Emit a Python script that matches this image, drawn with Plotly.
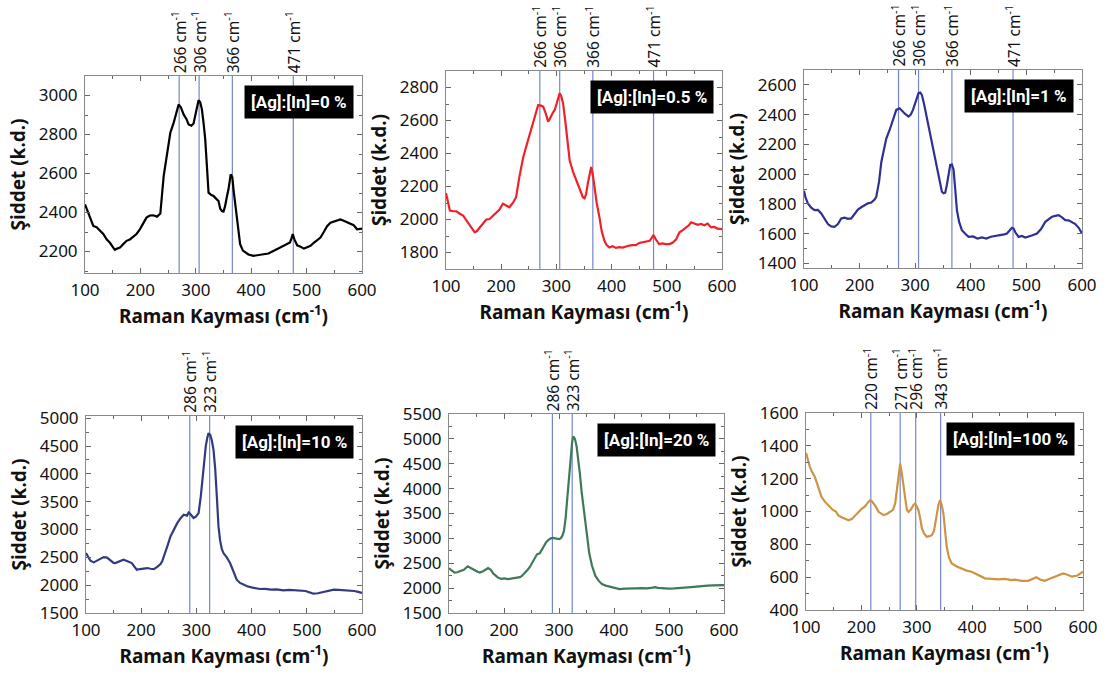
import plotly.graph_objects as go

# ---------------- data ----------------
x1 = [100,106,115,121,127,133,139,145,151,154,158,163,169,175,181,187,193,199,205,211,217,223,230,236,242,248,254,260,266,269,273,278,283,287,292,296,300,302,305,308,311,314,317,320,323,328,332,337,341,344,347,350,353,356,359,363,366,368,371,374,377,380,385,389,395,404,412,422,431,440,449,458,464,470,473,475,478,483,489,495,501,507,513,519,525,531,537,543,549,555,561,567,573,579,585,591,596,600]
y1 = [2442,2400,2331,2325,2306,2290,2263,2245,2220,2209,2215,2220,2238,2255,2262,2277,2290,2314,2345,2374,2385,2386,2379,2395,2587,2707,2809,2860,2930,2954,2940,2903,2880,2852,2845,2857,2910,2946,2976,2965,2929,2860,2775,2640,2502,2490,2485,2470,2459,2420,2408,2405,2434,2480,2519,2596,2580,2519,2450,2383,2300,2238,2205,2195,2185,2178,2182,2186,2190,2203,2215,2229,2238,2246,2270,2289,2262,2232,2225,2215,2222,2229,2245,2258,2272,2300,2330,2348,2355,2360,2365,2358,2350,2340,2335,2314,2318,2318]

x2 = [100,104,107,113,119,125,131,137,143,148,152,156,161,167,173,179,185,191,197,203,209,215,221,227,233,240,246,252,258,264,267,272,276,281,285,288,291,294,297,300,303,306,309,312,316,320,324,330,336,342,348,351,354,357,360,363,366,369,373,378,382,387,391,396,402,408,414,420,426,432,438,444,450,456,462,469,473,476,480,486,492,498,505,511,517,523,529,535,540,544,550,556,562,568,574,580,586,592,600]
y2 = [2160,2095,2054,2050,2050,2035,2024,1995,1963,1935,1922,1930,1950,1975,2000,2003,2020,2040,2060,2095,2085,2074,2100,2135,2260,2379,2450,2522,2590,2664,2694,2690,2684,2640,2593,2610,2633,2650,2664,2700,2740,2766,2745,2705,2600,2480,2359,2290,2237,2180,2135,2128,2156,2220,2280,2318,2270,2196,2100,2013,1930,1871,1845,1830,1838,1828,1832,1830,1838,1842,1845,1845,1858,1862,1865,1871,1890,1906,1880,1851,1855,1851,1851,1860,1880,1922,1935,1950,1965,1983,1975,1968,1973,1965,1975,1952,1955,1945,1942]

x3 = [100,103,107,113,119,125,131,137,143,149,155,161,167,173,179,185,191,197,203,209,215,221,227,230,235,239,243,248,254,260,266,272,276,282,288,292,296,301,306,309,312,316,321,327,333,339,344,348,351,354,357,360,363,366,369,372,375,379,384,390,396,404,412,420,428,436,444,452,460,465,468,471,474,477,480,486,492,498,504,511,519,526,534,540,546,552,558,564,570,576,582,588,594,600]
y3 = [1889,1840,1804,1775,1759,1760,1736,1700,1665,1650,1647,1665,1703,1708,1700,1703,1730,1763,1778,1790,1804,1810,1830,1849,1950,2080,2163,2240,2297,2370,2432,2443,2425,2405,2387,2400,2432,2490,2544,2548,2533,2470,2380,2252,2150,2050,1960,1882,1872,1876,1930,2010,2062,2065,2030,1900,1759,1680,1624,1600,1579,1582,1568,1575,1568,1580,1584,1590,1596,1602,1615,1629,1640,1635,1610,1579,1585,1575,1580,1590,1602,1630,1680,1695,1714,1720,1725,1710,1692,1690,1680,1665,1640,1602]

x4 = [100,104,108,114,120,126,132,138,144,150,153,158,163,168,173,178,183,188,192,198,204,211,217,223,229,235,238,243,248,253,259,265,271,277,283,286,289,292,295,299,304,308,313,317,320,322,325,328,331,334,337,340,343,346,349,355,361,367,373,379,385,392,400,408,415,425,435,445,458,468,478,488,498,505,512,520,530,540,549,558,566,572,579,586,593,600]
y4 = [2577,2520,2440,2410,2440,2470,2505,2495,2440,2400,2398,2415,2440,2458,2440,2420,2398,2330,2278,2290,2300,2308,2295,2290,2330,2380,2428,2560,2720,2876,3000,3110,3200,3265,3250,3307,3280,3240,3206,3230,3295,3600,4133,4500,4660,4732,4700,4600,4432,4100,3600,3056,2800,2650,2577,2500,2398,2250,2098,2040,2009,1980,1960,1945,1931,1935,1920,1925,1907,1915,1910,1907,1895,1870,1847,1855,1875,1900,1919,1915,1910,1905,1907,1895,1880,1859]

x5 = [100,105,110,115,120,127,134,140,147,152,156,162,167,171,176,180,185,189,195,201,207,213,217,223,229,232,238,243,247,252,256,260,265,270,274,277,281,285,289,293,297,300,303,306,309,312,315,318,321,324,326,329,332,335,338,341,345,350,355,360,366,372,378,385,392,400,410,420,430,440,450,460,470,475,480,490,500,510,520,530,540,550,560,570,580,590,600]
y5 = [2400,2350,2310,2320,2340,2370,2440,2410,2360,2330,2313,2340,2380,2405,2370,2300,2250,2212,2185,2195,2180,2190,2185,2200,2220,2240,2300,2370,2425,2520,2600,2680,2700,2800,2880,2930,2970,3000,3010,3000,2990,2985,3000,3050,3150,3400,3800,4200,4650,4950,5050,5000,4850,4600,4300,3950,3600,3100,2700,2450,2250,2150,2080,2050,2030,2000,1980,1990,1985,1995,2000,1995,2010,2020,2005,1990,1990,1995,2000,2010,2020,2030,2045,2050,2055,2060,2060]

x6 = [100,103,107,111,116,122,128,134,140,145,149,154,158,164,170,177,183,189,195,201,206,210,213,216,219,222,226,231,236,240,246,252,257,261,264,267,270,273,276,279,282,285,289,294,297,300,303,306,309,313,318,323,327,331,336,339,342,345,348,351,354,358,363,372,381,390,399,411,423,435,447,459,471,477,489,501,508,516,523,531,540,549,557,564,572,580,590,600]
y6 = [1357,1320,1272,1240,1211,1150,1089,1060,1039,1025,1008,1000,978,965,957,947,955,978,995,1018,1030,1049,1060,1069,1062,1049,1030,998,985,978,985,998,1010,1049,1130,1231,1292,1231,1150,1069,1010,998,1010,1040,1049,1030,1008,960,900,866,846,850,856,880,978,1040,1069,1040,988,900,785,720,684,665,653,640,633,615,593,590,587,590,582,585,578,578,590,599,585,578,590,603,612,623,615,603,610,633]

peak_labels_top = ["266 cm<sup>-1</sup>", "306 cm<sup>-1</sup>", "366 cm<sup>-1</sup>", "471 cm<sup>-1</sup>"]
peak_pos_top = [270, 306, 366, 476]
peak_labels_mid = ["286 cm<sup>-1</sup>", "323 cm<sup>-1</sup>"]
peak_pos_mid = [288, 324]
peak_labels_100 = ["220 cm<sup>-1</sup>", "271 cm<sup>-1</sup>", "296 cm<sup>-1</sup>", "343 cm<sup>-1</sup>"]
peak_pos_100 = [217, 270, 298, 343]

box_labels = ["[Ag]:[In]=0 %", "[Ag]:[In]=0.5 %", "[Ag]:[In]=1 %",
              "[Ag]:[In]=10 %", "[Ag]:[In]=20 %", "[Ag]:[In]=100 %"]
colors = ["#000000", "#ee2228", "#2e3192", "#333a80", "#3f7a58", "#cc9444"]
y_ranges = [[2090, 3100], [1700, 2900], [1370, 2700], [1500, 5040], [1500, 5500], [400, 1600]]
y_dticks = [200, 200, 200, 500, 500, 200]
xs = [x1, x2, x3, x4, x5, x6]
ys = [y1, y2, y3, y4, y5, y6]
peaks = [(peak_pos_top, peak_labels_top)] * 3 + [(peak_pos_mid, peak_labels_mid)] * 2 + [(peak_pos_100, peak_labels_100)]

# plot-area boxes in pixels (left, right, top, bottom)
W, H = 1109, 680
boxes = [(85, 362, 76, 273), (446, 722, 71, 269), (804, 1082, 70, 268),
         (86, 362, 416, 613), (449, 724, 414, 613), (806, 1083, 413, 610)]

FONT = "Noto Sans, Open Sans, sans-serif"
fig = go.Figure()
annotations = []
shapes = []
for i in range(6):
    n = i + 1
    xa = "x" if n == 1 else f"x{n}"
    ya = "y" if n == 1 else f"y{n}"
    l, r, t, b = boxes[i]
    fig.add_trace(go.Scatter(x=xs[i], y=ys[i], mode="lines", xaxis=xa, yaxis=ya,
                             line=dict(color=colors[i], width=2.2), showlegend=False))
    axcommon = dict(showline=True, linecolor="#8a8a8a", linewidth=1, mirror="ticks",
                    ticks="inside", ticklen=5, tickcolor="#666", showgrid=False, zeroline=False,
                    automargin=False,
                    tickfont=dict(family=FONT, size=17, color="#111"))
    fig.layout[f"xaxis{n}"] = dict(domain=[l / W, r / W], anchor=ya, range=[100, 600], dtick=100,
                                   title=dict(text="Raman Kayması (cm<sup>-1</sup>)", standoff=6,
                                              font=dict(family=FONT, size=19, color="#111", weight="bold")),
                                   minor=dict(ticks="inside", ticklen=3, dtick=50, tickcolor="#666"),
                                   ticklabelstandoff=2, **axcommon)
    fig.layout[f"yaxis{n}"] = dict(domain=[1 - b / H, 1 - t / H], anchor=xa, range=y_ranges[i],
                                   dtick=y_dticks[i],
                                   title=dict(text="Şiddet (k.d.)", standoff=8,
                                              font=dict(family=FONT, size=19, color="#111", weight="bold")),
                                   minor=dict(ticks="inside", ticklen=3, dtick=y_dticks[i] / 2, tickcolor="#666"),
                                   ticklabelstandoff=3, **axcommon)
    pos, labs = peaks[i]
    for p, lab in zip(pos, labs):
        shapes.append(dict(type="line", xref=xa, yref=f"{ya} domain", x0=p, x1=p, y0=0, y1=1,
                           line=dict(color="rgba(70,95,190,0.75)", width=1.2), layer="below"))
        annotations.append(dict(text=lab, xref=xa, yref="paper", x=p, y=1 - t / H,
                                xanchor="center", yanchor="bottom", yshift=2, textangle=-90,
                                borderpad=0,
                                showarrow=False, font=dict(family=FONT, size=15.5, color="#111")))
    annotations.append(dict(text="<b>" + box_labels[i] + "</b>", xref=f"{xa} domain", yref=f"{ya} domain",
                            x=0.97, y=0.955, xanchor="right", yanchor="top", showarrow=False,
                            bgcolor="#000", borderpad=6,
                            font=dict(family="Liberation Sans Narrow, Roboto, sans-serif", size=17, color="#fff")))

fig.update_layout(width=W, height=H, margin=dict(l=0, r=0, t=0, b=0),
                  paper_bgcolor="white", plot_bgcolor="white",
                  annotations=annotations, shapes=shapes)
fig.write_html("out.html")
